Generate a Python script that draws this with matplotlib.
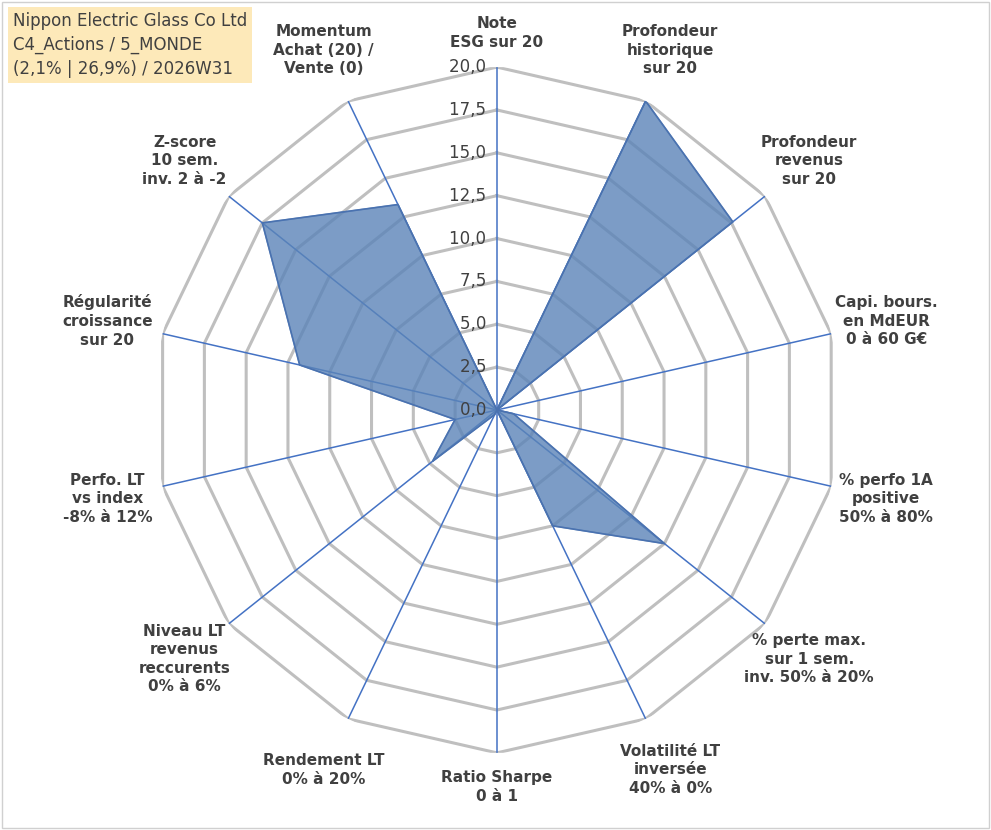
import numpy as np
import matplotlib.pyplot as plt

labels = ["Note\nESG sur 20", "Profondeur\nhistorique\nsur 20", "Profondeur\nrevenus\nsur 20",
          "Capi. bours.\nen MdEUR\n0 à 60 G€", "% perfo 1A\npositive\n50% à 80%",
          "% perte max.\nsur 1 sem.\ninv. 50% à 20%", "Volatilité LT\ninversée\n40% à 0%",
          "Ratio Sharpe\n0 à 1", "Rendement LT\n0% à 20%", "Niveau LT\nrevenus\nreccurents\n0% à 6%",
          "Perfo. LT\nvs index\n-8% à 12%", "Régularité\ncroissance\nsur 20",
          "Z-score\n10 sem.\ninv. 2 à -2", "Momentum\nAchat (20) /\nVente (0)"]
values = [0, 20, 17.6, 0, 1.0, 12.5, 7.5, 0, 0.3, 4.8, 2.5, 11.8, 17.5, 13.3]
ticks = [0, 2.5, 5, 7.5, 10, 12.5, 15, 17.5, 20]
title = "Nippon Electric Glass Co Ltd\nC4_Actions / 5_MONDE\n(2,1% | 26,9%) / 2026W31"

n = len(labels)
ang = np.arange(n) * 2 * np.pi / n
angc = np.append(ang, ang[0])

fig = plt.figure(figsize=(9.91, 8.3), dpi=100)
ax = fig.add_axes([0.1554, 0.0928, 0.692, 0.8265], projection="polar")
ax.set_theta_zero_location("N")
ax.set_theta_direction(-1)
ax.set_ylim(0, 20)
ax.grid(False)
ax.spines["polar"].set_visible(False)
ax.set_xticks([])
ax.set_yticks([])

for t in ticks[1:]:
    ax.plot(angc, [t] * (n + 1), color="#bfbfbf", lw=2.2, zorder=1)
for a in ang:
    ax.plot([a, a], [0, 20], color="#4472c4", lw=1.1, zorder=2)

v = np.append(values, values[0])
ax.fill(angc, v, color="#5b84b8", alpha=0.8, zorder=3)
ax.plot(angc, v, color="#4a72b0", lw=1.2, zorder=4)

for t in ticks:
    ax.text(0, t, f"{t:.1f}".replace(".", ",") + "  ", ha="right", va="center",
            fontsize=12, color="#404040", zorder=5)

for a, lab in zip(ang, labels):
    s, c = np.sin(a), np.cos(a)
    ha = "center" if abs(s) < 0.2 else ("left" if s > 0 else "right")
    r = 21.0 if abs(s) < 0.2 else 20.8
    va = "center"
    if abs(s) < 0.2:
        va = "bottom" if c > 0 else "top"
    ha = "center"
    dx = 0
    if abs(s) >= 0.2:
        r = 23.3
    ax.text(a, r, lab, ha=ha, va=va, fontsize=11, fontweight="bold",
            color="#404040", linespacing=1.3)

fig.text(0.013, 0.985, title, ha="left", va="top", fontsize=12, color="#404040",
         linespacing=1.4,
         bbox=dict(boxstyle="square,pad=0.3", fc="#fde9b9", ec="none"))
fig.patches.append(plt.Rectangle((0.002, 0.002), 0.996, 0.996, transform=fig.transFigure,
                                 fill=False, ec="#d0d0d0", lw=1))
fig.savefig("out.png", dpi=100)
